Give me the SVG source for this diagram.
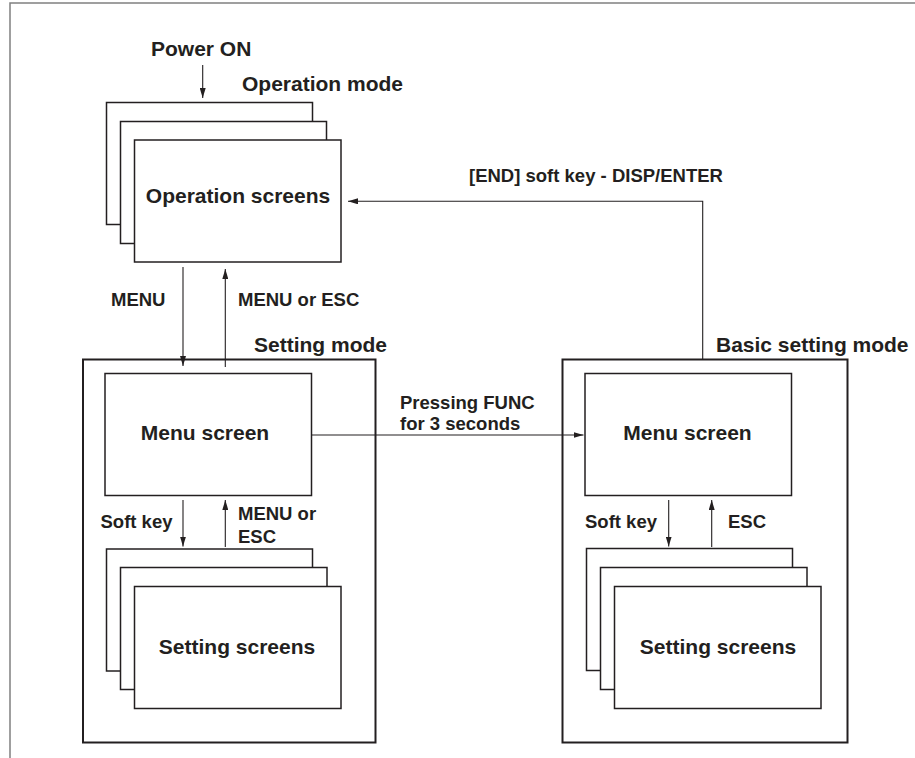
<svg xmlns="http://www.w3.org/2000/svg" width="915" height="758" viewBox="0 0 915 758">
<style>
.box{fill:#fff;stroke:#231f20;stroke-width:1.5}
.frame{fill:none;stroke:#231f20;stroke-width:2}
.conn{fill:none;stroke:#231f20;stroke-width:1.1}
.t{font-family:"Liberation Sans",Arial,Helvetica,sans-serif;font-weight:bold;fill:#231f20}
.title{font-size:21px}
.lbl{font-size:18.5px}
</style>
<defs>
<marker id="ah" viewBox="0 0 10 6" refX="10" refY="3" markerWidth="10" markerHeight="6" markerUnits="userSpaceOnUse" orient="auto">
<path d="M0,0 L10,3 L0,6 Z" fill="#231f20"/>
</marker>
</defs>
<rect width="915" height="758" fill="#fff"/>
<path d="M10,758 V3 H915" fill="none" stroke="#808080" stroke-width="1.5"/>

<g id="power-on">
<text class="t title" x="151" y="56">Power ON</text>
</g>

<g id="operation-mode">
<text class="t title" x="242" y="91">Operation mode</text>
<rect class="box" x="106.5" y="102.5" width="206" height="122"/>
<rect class="box" x="120.5" y="121.5" width="206" height="122"/>
<rect class="box" x="134.5" y="140" width="206.5" height="122"/>
<text class="t title" x="238" y="203" text-anchor="middle">Operation screens</text>
</g>

<g id="setting-mode">
<text class="t title" x="254" y="352">Setting mode</text>
<rect class="frame" x="83" y="359.5" width="292.5" height="383"/>
</g>

<g id="setting-menu">
<rect class="box" x="105" y="373.5" width="206.5" height="122"/>
<text class="t title" x="205" y="440" text-anchor="middle">Menu screen</text>
</g>

<g id="setting-screens">
<rect class="box" x="106.5" y="549" width="206" height="122"/>
<rect class="box" x="120.5" y="567.5" width="206.5" height="122"/>
<rect class="box" x="134.5" y="586.5" width="206.5" height="122"/>
<text class="t title" x="237" y="654" text-anchor="middle">Setting screens</text>
</g>

<g id="basic-setting-mode">
<text class="t title" x="716" y="352">Basic setting mode</text>
<rect class="frame" x="562.5" y="359.5" width="285" height="383"/>
</g>

<g id="basic-menu">
<rect class="box" x="585" y="373.5" width="206.5" height="122"/>
<text class="t title" x="687.5" y="439.5" text-anchor="middle">Menu screen</text>
</g>

<g id="basic-setting-screens">
<rect class="box" x="586.5" y="548.5" width="206" height="122"/>
<rect class="box" x="600.5" y="567.5" width="206.5" height="122"/>
<rect class="box" x="614.5" y="586.5" width="206.5" height="122"/>
<text class="t title" x="718" y="654" text-anchor="middle">Setting screens</text>
</g>

<g id="connectors">
<line class="conn" x1="202.7" y1="65" x2="202.7" y2="98" marker-end="url(#ah)"/>
<line class="conn" x1="183" y1="267" x2="183" y2="366" marker-end="url(#ah)"/>
<line class="conn" x1="225.3" y1="367" x2="225.3" y2="269" marker-end="url(#ah)"/>
<path class="conn" d="M702.7,359 V201.3 H348" marker-end="url(#ah)"/>
<line class="conn" x1="311.5" y1="435" x2="583.5" y2="435" marker-end="url(#ah)"/>
<line class="conn" x1="183" y1="500" x2="183" y2="546.5" marker-end="url(#ah)"/>
<line class="conn" x1="225.3" y1="547" x2="225.3" y2="500" marker-end="url(#ah)"/>
<line class="conn" x1="668.7" y1="500" x2="668.7" y2="546.5" marker-end="url(#ah)"/>
<line class="conn" x1="711.7" y1="547" x2="711.7" y2="500" marker-end="url(#ah)"/>
</g>

<g id="labels">
<text class="t lbl" x="111" y="306">MENU</text>
<text class="t lbl" x="238" y="306">MENU or ESC</text>
<text class="t lbl" x="469" y="181.5">[END] soft key - DISP/ENTER</text>
<text class="t lbl" x="400" y="409">Pressing FUNC</text>
<text class="t lbl" x="400" y="430">for 3 seconds</text>
<text class="t lbl" x="100.5" y="528">Soft key</text>
<text class="t lbl" x="238" y="520">MENU or</text>
<text class="t lbl" x="238" y="542.5">ESC</text>
<text class="t lbl" x="585" y="528">Soft key</text>
<text class="t lbl" x="728" y="528">ESC</text>
</g>
</svg>
